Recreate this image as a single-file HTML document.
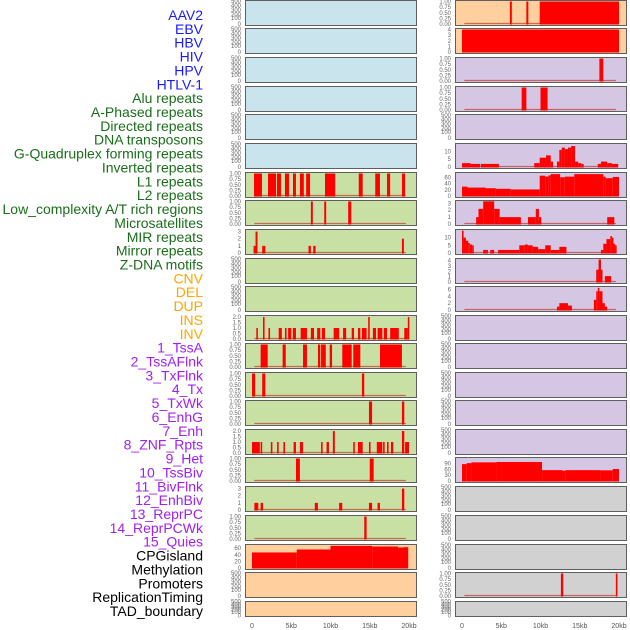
<!DOCTYPE html>
<html><head><meta charset="utf-8">
<style>
html,body{margin:0;padding:0;background:#fff;}
svg{display:block;font-family:"Liberation Sans",sans-serif;}
</style></head>
<body>
<svg id="chart" width="630" height="630" viewBox="0 0 630 630" xmlns="http://www.w3.org/2000/svg"></svg>
<script>
// ---- track labels ----
const trackLabels = ["AAV2","EBV","HBV","HIV","HPV","HTLV-1","Alu repeats","A-Phased repeats","Directed repeats","DNA transposons","G-Quadruplex forming repeats","Inverted repeats","L1 repeats","L2 repeats","Low_complexity A/T rich regions","Microsatellites","MIR repeats","Mirror repeats","Z-DNA motifs","CNV","DEL","DUP","INS","INV","1_TssA","2_TssAFlnk","3_TxFlnk","4_Tx","5_TxWk","6_EnhG","7_Enh","8_ZNF_Rpts","9_Het","10_TssBiv","11_BivFlnk","12_EnhBiv","13_ReprPC","14_ReprPCWk","15_Quies","CPGisland","Methylation","Promoters","ReplicationTiming","TAD_boundary"];
const labelGroups = ["v","v","v","v","v","v","r","r","r","r","r","r","r","r","r","r","r","r","r","s","s","s","s","s","c","c","c","c","c","c","c","c","c","c","c","c","c","c","c","o","o","o","o","o"];
const xTickValues = [0,5,10,15,20];
const xTickLabels = ["0","5kb","10kb","15kb","20kb"];

// ---- left column track data: [startKb, endKb, value] ----
const leftRow6 = [[0.25,1.27,1],[2.04,3.06,1],[3.18,3.69,1],[4.2,4.71,1],[5.22,5.6,1],[6.1,6.6,1],[6.9,7.4,1],[9.3,10.6,1],[13.6,14.1,1],[15.7,16.3,1],[17.2,17.6,1],[19.1,19.5,1]];
const leftRow7 = [[7.5,7.75,1],[9.2,9.45,1],[12.25,12.65,1]];
const leftRow8 = [[0.2,0.45,1],[0.45,0.7,3],[1.3,1.7,1],[7.2,7.5,1],[7.8,8.1,1],[19.1,19.35,2]];
const leftRow11 = [[0.55,0.75,1],[1.4,1.6,2],[2.1,2.3,1],[3.4,3.8,1],[4.2,4.4,1],[4.6,5.0,1],[5.2,5.6,1],[6.2,7.0,1],[7.5,7.9,1],[8.3,8.7,1],[8.9,9.3,1],[10.4,11.1,1],[11.6,12.0,1],[12.7,13.0,1],[13.5,13.8,1],[14.0,14.6,1],[14.8,15.0,2],[15.4,15.8,1],[16.0,16.6,1],[16.8,17.2,1],[17.6,18.7,1],[19.4,19.85,1],[19.85,20.0,2]];
const leftRow12 = [[1.1,2.0,1],[3.9,4.3,1],[6.5,7.0,1],[8.4,8.7,1],[8.8,9.4,1],[9.9,10.2,1],[11.5,12.7,1],[12.9,13.8,1],[16.3,19.1,1]];
const leftRow13 = [[0.0,0.4,1],[1.3,1.7,1],[14.0,14.3,1]];
const leftRow14 = [[14.9,15.3,1],[19.1,19.4,1]];
const leftRow15 = [[0.0,1.0,1],[1.1,1.3,1],[2.4,2.6,1],[3.2,3.4,1],[4.0,4.2,1],[5.3,5.6,1],[6.1,6.5,1],[8.8,9.0,1],[9.5,9.8,1],[10.3,10.55,2],[12.9,13.1,1],[13.5,14.1,1],[14.9,15.1,1],[15.9,16.6,1],[16.7,16.9,1],[17.2,17.4,1],[17.7,18.0,1],[19.1,19.4,2],[19.5,20.0,1]];
const leftRow16 = [[5.6,6.1,1],[15.0,15.5,1]];
const leftRow17 = [[0.3,0.8,1],[1.1,1.4,1],[8.0,8.4,1],[11.1,11.5,1],[14.9,15.3,1],[16.0,16.3,1],[19.1,19.4,3]];
const leftRow18 = [[14.3,14.6,1]];
const leftRow19 = [[0,5.7,47],[5.7,10,56],[10,15.3,67],[15.3,18.6,65],[18.6,19.3,62],[19.3,19.9,63]];

// ---- right column track data ----
const rightRow0 = [[6.1,6.35,1],[8.2,8.45,1],[9.9,20.0,1]];
const rightRow1 = [[0,20.0,4]];
const rightRow2 = [[17.5,18.0,1]];
const rightRow3 = [[7.6,8.2,1],[10.0,10.9,1]];
const rightRow5 = [[0,1.1,2.5],[1.1,2.3,2],[2.4,4.7,2],[9.2,9.9,2.5],[9.9,10.7,6],[10.7,11.3,7.5],[11.3,11.6,3.5],[12.1,12.4,3.5],[12.4,12.7,11],[12.7,13.1,12.5],[13.1,13.5,11.5],[13.5,13.9,12.5],[13.9,14.4,13.5],[14.4,14.8,3.5],[14.8,15.2,2.5],[15.2,15.5,2],[17.3,17.7,2],[17.7,18.5,3.5],[18.5,19.1,2.5],[19.1,19.9,2]];
const rightRow6 = [[0,0.7,30],[0.7,3.0,27],[3.0,4.3,25],[4.3,6.2,23],[6.2,9.9,21],[9.9,10.6,65],[10.6,11.0,62],[11.0,11.3,66],[11.3,12.5,70],[12.5,13.1,60],[13.1,14.3,62],[14.3,18.0,70],[18.0,18.3,62],[18.3,19.2,57],[19.2,20.0,61]];
const rightRow7 = [[1.8,2.1,1],[2.1,2.7,2.2],[2.7,4.1,3.3],[4.1,4.8,2.2],[4.8,7.5,1],[8.4,9.4,1],[9.4,9.8,2.2],[9.8,10.1,1],[18.5,19.4,1]];
const rightRow8 = [[0,0.2,14.5],[0.2,0.5,10],[0.5,0.8,8],[0.8,1.0,6.5],[1.0,1.3,5.5],[1.3,1.5,5],[2.7,3.3,2],[3.6,4.1,2],[4.6,7.3,2],[7.3,8.0,5],[8.0,8.4,5.5],[8.4,9.0,5],[9.0,9.7,4],[9.7,10.6,2.5],[10.6,11.3,5],[11.3,12.4,2],[12.4,13.3,4],[17.7,18.0,2],[18.0,18.4,6],[18.4,18.9,9],[18.9,19.1,11],[19.1,19.3,10],[19.3,19.5,6],[19.5,19.7,5]];
const rightRow9 = [[17.1,17.4,2.3],[17.4,17.7,4.2],[17.7,17.9,2.3],[18.2,19.0,1.1]];
const rightRow10 = [[12.1,12.4,1],[12.4,13.5,2],[13.5,14.0,1.3],[16.8,17.1,3],[17.1,17.3,5.5],[17.3,17.5,6.5],[17.5,17.9,5.5],[17.9,18.2,2],[18.2,18.5,1]];
const rightRow16 = [[0,0.6,87],[0.6,1.2,92],[1.2,4.4,96],[4.4,10.2,98],[10.2,12.8,56],[12.8,13.2,53],[13.2,17.7,56],[17.7,19.2,55],[19.2,20.0,62]];
const rightRow20 = [[12.6,12.9,1],[19.6,19.8,1]];

// tick sets
const T500 = ["0","100","200","300","400","500"];
const T1 = ["0.00","0.25","0.50","0.75","1.00"];
const T2 = ["0.0","0.5","1.0","1.5","2.0"];
const T3 = ["0","1","2","3"];
const T4 = ["0","1","2","3","4"];
const T60 = ["0","20","40","60"];
const T10 = ["0","5","10"];
const T6 = ["0","2","4","6"];
const T90 = ["0","30","60","90"];

const BG = {blue:"#c9e4ec", green:"#c9e0a5", peach:"#ffd09d", purple:"#d5c7e3", grey:"#d1d1d1"};
const rowTops = [0,28,57,86,114,143,172,200,229,258,286,315,343,372,400,429,457,486,515,544,572,601];

// panels: [col,row,bg,ticks,ymax,data,baseline]
const panels = [];
function L(r,bg,t,ym,d,b){panels.push({col:0,row:r,bg:bg,ticks:t,ymax:ym,data:d,base:b});}
function R(r,bg,t,ym,d,b){panels.push({col:1,row:r,bg:bg,ticks:t,ymax:ym,data:d,base:b});}
for(let r=0;r<6;r++) L(r,"blue",T500,null,[],false);
L(6,"green",T1,1,leftRow6,true);
L(7,"green",T1,1,leftRow7,true);
L(8,"green",T3,3.15,leftRow8,true);
L(9,"green",T500,null,[],false);
L(10,"green",T500,null,[],false);
L(11,"green",T2,2.05,leftRow11,true);
L(12,"green",T1,1,leftRow12,true);
L(13,"green",T1,1,leftRow13,true);
L(14,"green",T1,1,leftRow14,true);
L(15,"green",T2,2.05,leftRow15,true);
L(16,"green",T1,1,leftRow16,true);
L(17,"green",T3,3.15,leftRow17,true);
L(18,"green",T1,1,leftRow18,true);
L(19,"peach",T60,68,leftRow19,false);
L(20,"peach",T500,null,[],false);
L(21,"peach",T500,null,[],false);
R(0,"peach",T1,1,rightRow0,true);
R(1,"peach",T4,4,rightRow1,false);
R(2,"purple",T1,1,rightRow2,true);
R(3,"purple",T1,1,rightRow3,true);
R(4,"purple",T500,null,[],false);
R(5,"purple",T10,14.5,rightRow5,true);
R(6,"purple",T60,72,rightRow6,true);
R(7,"purple",T3,3.27,rightRow7,true);
R(8,"purple",T10,14.6,rightRow8,true);
R(9,"purple",T4,4.2,rightRow9,true);
R(10,"purple",T6,6.6,rightRow10,true);
for(let r=11;r<16;r++) R(r,"purple",T500,null,[],false);
R(16,"purple",T90,116,rightRow16,false);
for(let r=17;r<20;r++) R(r,"grey",T500,null,[],false);
R(20,"grey",T1,1,rightRow20,true);
R(21,"grey",T500,null,[],false);

const NS="http://www.w3.org/2000/svg";
const svg=document.getElementById("chart");
function mk(tag,attrs,parent){const e=document.createElementNS(NS,tag);for(const k in attrs)e.setAttribute(k,attrs[k]);(parent||svg).appendChild(e);return e;}

const colX=[{left:245,right:416,x0:252,x20:409,tickX:241},{left:455,right:626,x0:462,x20:619,tickX:451}];
function xScale(c,kb){return colX[c].x0+(colX[c].x20-colX[c].x0)*kb/20;}

// labels
const groupColor={v:"#1a1aff",r:"#1a6e1a",s:"#ffa500",c:"#a020f0",o:"#000"};
trackLabels.forEach((t,i)=>{
  const y=15+i*(596/43);
  const el=mk("text",{x:203,y:y+5,"text-anchor":"end","font-size":"14",fill:groupColor[labelGroups[i]]});
  el.textContent=t;
  
  
});

panels.forEach(p=>{
  const c=colX[p.col];
  const top=rowTops[p.row];
  const h=(p.row===21)?15:25;
  const g=mk("g",{});
  
  
  mk("rect",{x:c.left+0.5,y:top+0.5,width:c.right-c.left,height:h,fill:BG[p.bg],stroke:"#5f5f5f","stroke-width":1},g);
  const pTop=top+1.5, pBot=top+h-1;
  function yScale(v){return pBot-(pBot-pTop)*v/p.ymax;}
  // ticks
  if(p.ymax===null){
    const offs=[24,18,14.5,10,5.5,1];
    p.ticks.forEach((t,i)=>{
      const yy=top+offs[i]*h/25;
      const el=mk("text",{x:c.tickX,y:yy+2,"text-anchor":"end","font-size":"6",fill:"#666"},g);
      el.textContent=t;
      
      
    });
  } else {
    p.ticks.forEach(t=>{
      const yy=yScale(parseFloat(t));
      const el=mk("text",{x:c.tickX,y:yy+2,"text-anchor":"end","font-size":"6",fill:"#666"},g);
      el.textContent=t;
      
      
    });
  }
  if(p.base){
    const bl=mk("line",{x1:xScale(p.col,0.3),x2:xScale(p.col,19.6),y1:pBot-0.5,y2:pBot-0.5,stroke:"#c0392b","stroke-opacity":0.7,"stroke-width":1.2},g);
    
    
  }
  p.data.forEach(d=>{
    const x1=xScale(p.col,d[0]), x2=xScale(p.col,d[1]);
    const y=yScale(d[2]);
    const r=mk("rect",{x:x1,y:y,width:Math.max(1.5,x2-x1),height:pBot-y+0.5,fill:"#ff0000"},g);
    
    
  });
});

// x axes
[0,1].forEach(c=>{
  xTickValues.forEach((v,i)=>{
    const el=mk("text",{x:xScale(c,v),y:628,"text-anchor":"middle","font-size":"7",fill:"#555"});
    el.textContent=xTickLabels[i];
    
    
  });
});
</script>
</body></html>
